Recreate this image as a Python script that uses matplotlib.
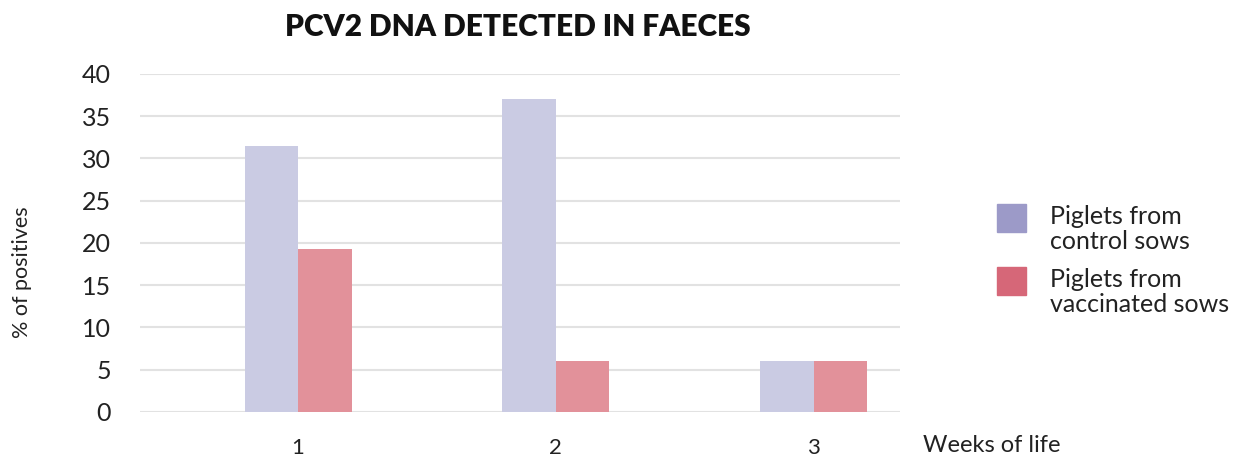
import matplotlib.pyplot as plt
from matplotlib.patches import Rectangle
import numpy as np

plt.rcParams['font.family'] = ['Lato', 'DejaVu Sans']

# --- data ---
weeks = ['1', '2', '3']
control = [31.5, 37.0, 6.0]
vaccinated = [19.3, 6.0, 6.0]
series_names = ['Piglets from\ncontrol sows', 'Piglets from\nvaccinated sows']
y_ticks = [0, 5, 10, 15, 20, 25, 30, 35, 40]

bar_colors = ['#CACBE3', '#E2919A']
legend_colors = ['#9C9AC8', '#D66778']
text_color = '#222222'

fig = plt.figure(figsize=(12.49, 4.59), dpi=100)
ax = fig.add_axes([0.1121, 0.1024, 0.6085, 0.7364])

x = np.arange(1, len(weeks) + 1)
w = 0.2075
ax.bar(x - w / 2, control, width=w, color=bar_colors[0], zorder=3)
ax.bar(x + w / 2, vaccinated, width=w, color=bar_colors[1], zorder=3)

ax.set_xlim(0.387, 3.335)
ax.set_ylim(0, 40)
ax.set_yticks(y_ticks)
ax.set_xticks(x)
ax.set_xticklabels(weeks)
ax.grid(axis='y', color='#E2E2E2', linewidth=1.5, zorder=0)
ax.set_axisbelow(True)
for s in ax.spines.values():
    s.set_visible(False)
ax.tick_params(axis='y', length=0, pad=21, labelsize=18, labelcolor=text_color)
ax.tick_params(axis='x', length=0, pad=19, labelsize=16, labelcolor=text_color)

# axis labels
fig.text(923 / 1249, 1 - 446 / 459, 'Weeks of life', ha='left', va='center',
         fontsize=17, color=text_color)
fig.text(22 / 1249, 1 - 272 / 459, '% of positives', ha='center', va='center',
         rotation=90, fontsize=15.5, color=text_color)

# title
fig.text(518 / 1249, 1 - 27 / 459, 'PCV2 DNA DETECTED IN FAECES', ha='center',
         va='center', fontsize=21.5, fontweight='heavy', color='#111111')

# legend drawn by hand
patch_w, patch_h = 29 / 1249, 28 / 459
for i, (name, col) in enumerate(zip(series_names, legend_colors)):
    top = 204 + i * 63
    fig.add_artist(Rectangle((997 / 1249, 1 - (top + 28) / 459), patch_w, patch_h,
                             transform=fig.transFigure, color=col))
    fig.text(1050 / 1249, 1 - (top + 1) / 459, name, ha='left', va='top',
             fontsize=18, color=text_color, linespacing=1.12)

fig.savefig('out.png', dpi=100)
